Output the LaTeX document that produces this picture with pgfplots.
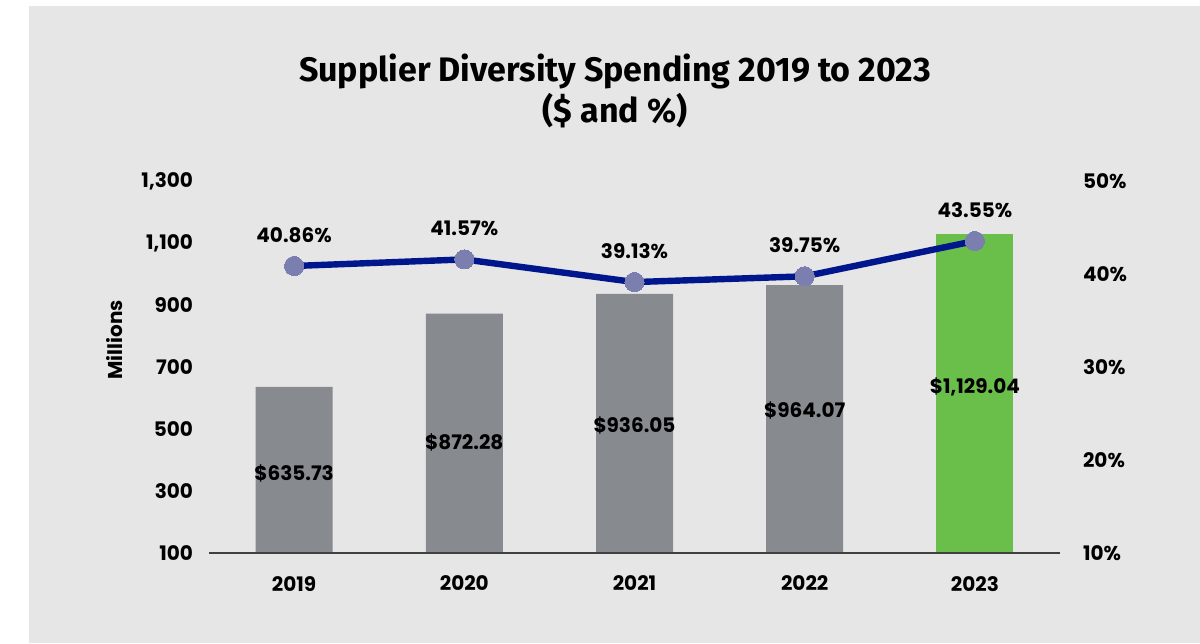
\documentclass[border=0pt]{standalone}
\usepackage{fontspec}
\setmainfont{Poppins}
\newfontfamily\titlefont{Fira Sans}
\usepackage{pgfplots}
\pgfplotsset{compat=1.18}
\definecolor{bgc}{HTML}{E6E6E6}
\definecolor{barc}{HTML}{878A8F}
\definecolor{greenc}{HTML}{6ABF4B}
\definecolor{linec}{HTML}{00168C}
\definecolor{markc}{HTML}{7A7FB0}
\pgfkeys{/pgf/number format/assume math mode=true}
\begin{document}
\begin{tikzpicture}
\useasboundingbox (0,0) rectangle (600pt,321.5pt);
\fill[white] (0,0) rectangle (600pt,321.5pt);
\fill[bgc] (14.5pt,0) rectangle (600pt,318.5pt);
\node[anchor=base, font=\titlefont\bfseries\fontsize{17}{20}\selectfont] at (307.5pt,280.5pt) {Supplier Diversity Spending 2019 to 2023};
\node[anchor=base, font=\titlefont\bfseries\fontsize{17}{20}\selectfont] at (307.5pt,260pt) {(\$ and \%)};
\node[font=\bfseries\fontsize{10}{11}\selectfont, rotate=90] at (57.5pt,151.5pt) {Millions};
\begin{axis}[
  at={(104.5pt,45pt)}, anchor=south west,
  scale only axis, width=425.5pt, height=186pt,
  xmin=-0.5, xmax=4.5, ymin=100, ymax=1300,
  xtick={0,1,2,3,4}, xticklabels={2019,2020,2021,2022,2023},
  ytick={100,300,...,1300},
  yticklabel={\pgfmathprintnumber[1000 sep={,}]{\tick}},
  axis x line*=bottom, axis y line*=left,
  x axis line style={draw=black!75, line width=0.9pt, -},
  y axis line style={draw=none},
  tick style={draw=none},
  ticklabel style={font=\bfseries\fontsize{10}{12}\selectfont},
  yticklabel style={xshift=-4.5pt},
  xticklabel style={yshift=-8pt},
  axis on top,
  clip=true,
]
\addplot[ybar, bar width=38.5pt, bar shift=0pt, fill=barc, draw=none] coordinates {(0,635.73) (1,872.28) (2,936.05) (3,964.07)};
\addplot[ybar, bar width=38.5pt, bar shift=0pt, fill=greenc, draw=none] coordinates {(4,1129.04)};
\node[font=\bfseries\fontsize{10}{12}\selectfont] at (axis cs:0,355) {\$635.73};
\node[font=\bfseries\fontsize{10}{12}\selectfont] at (axis cs:1,458) {\$872.28};
\node[font=\bfseries\fontsize{10}{12}\selectfont] at (axis cs:2,510) {\$936.05};
\node[font=\bfseries\fontsize{10}{12}\selectfont] at (axis cs:3,561) {\$964.07};
\node[font=\bfseries\fontsize{10}{12}\selectfont] at (axis cs:4,635) {\$1,129.04};
\end{axis}
\begin{axis}[
  at={(104.5pt,45pt)}, anchor=south west,
  scale only axis, width=425.5pt, height=186pt,
  xmin=-0.5, xmax=4.5, ymin=10, ymax=50,
  ytick={10,20,...,50},
  yticklabel={\pgfmathprintnumber{\tick}\%},
  axis y line*=right, axis x line=none,
  y axis line style={draw=none},
  tick style={draw=none},
  ticklabel style={font=\bfseries\fontsize{10}{12}\selectfont},
  yticklabel style={xshift=8pt},
  clip=false,
]
\addplot[color=linec, line width=3.2pt, mark=*, mark size=4.8pt, mark options={fill=markc, draw=markc, line width=0pt},
  nodes near coords={\pgfmathprintnumber[fixed,fixed zerofill,precision=2]{\pgfplotspointmeta}\%},
  every node near coord/.append style={anchor=center, yshift=15.5pt, text=black, font=\bfseries\fontsize{10}{12}\selectfont}]
  coordinates {(0,40.86) (1,41.57) (2,39.13) (3,39.75) (4,43.55)};
\end{axis}
\end{tikzpicture}
\end{document}
